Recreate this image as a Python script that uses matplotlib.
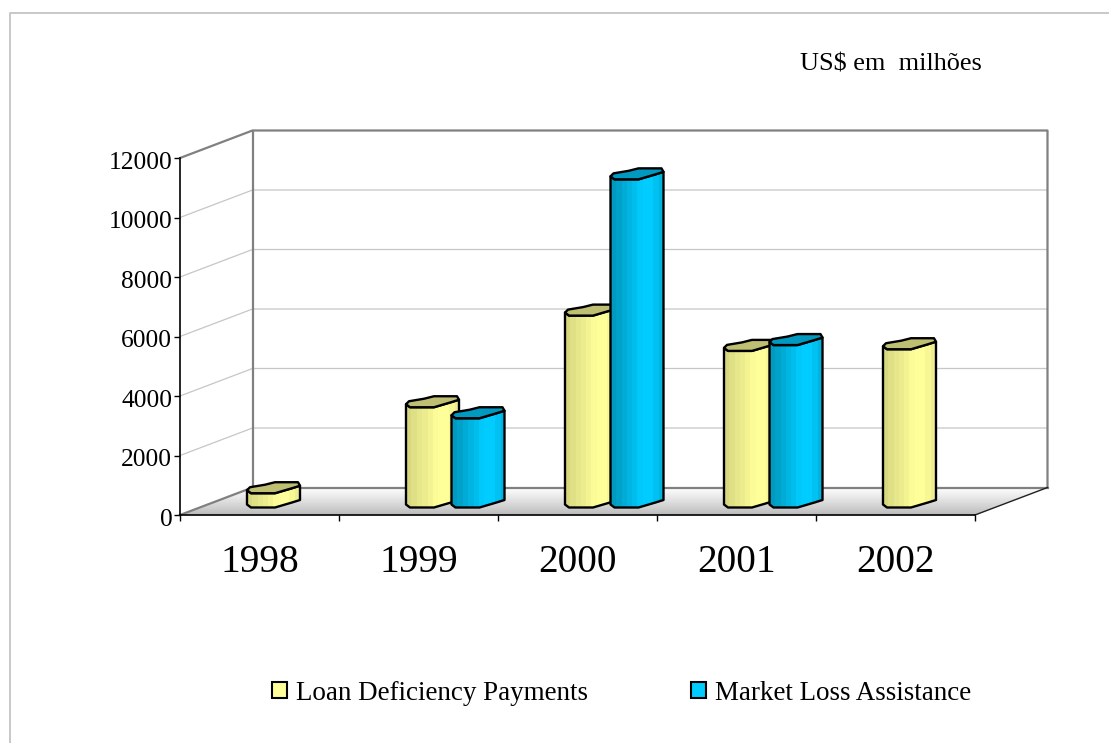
import numpy as np
import matplotlib
matplotlib.use('Agg')
import matplotlib.pyplot as plt
from matplotlib.colors import LinearSegmentedColormap
from matplotlib.lines import Line2D
from matplotlib.patches import Patch, Polygon
from matplotlib.transforms import ScaledTranslation

plt.rcParams['font.family'] = ['Liberation Serif', 'DejaVu Serif']

years = ['1998', '1999', '2000', '2001', '2002']
loan_deficiency = [480, 3370, 6450, 5264, 5320]
market_loss = [None, 3000, 11030, 5460, None]
y_ticks = [0, 2000, 4000, 6000, 8000, 10000, 12000]

W, H = 1109, 743
# plot box of the front plane, in pixels
LEFT, RIGHT, TOP, BOTTOM = 180, 975, 158, 515
DEPTH_PX = (72.5, -27.5)

fig = plt.figure(figsize=(W / 100, H / 100), dpi=100)
ax = fig.add_axes([LEFT / W, 1 - BOTTOM / H, (RIGHT - LEFT) / W, (BOTTOM - TOP) / H])
ax.patch.set_visible(False)
ax.set_xlim(0, 5)
ax.set_ylim(0, 12000)

px_x = 5 / (RIGHT - LEFT)
px_y = 12000 / (BOTTOM - TOP)
dx, dy = DEPTH_PX[0] * px_x, -DEPTH_PX[1] * px_y

# outer chart frame runs off the picture at the right and the bottom
fig.add_artist(Line2D([10 / W, 10 / W, 1], [0, 1 - 13 / H, 1 - 13 / H], transform=fig.transFigure,
                      color='#c8c8c8', lw=1.4))

# floor with its gradient, drawn as thin strips
grey = LinearSegmentedColormap.from_list('floor', ['#ffffff', '#bdbdbd'])
strips = np.linspace(1, 0, 28)
for k in range(len(strips) - 1):
    a, b = strips[k], strips[k + 1]
    ax.fill([a * dx, 5 + a * dx, 5 + b * dx, b * dx], [a * dy, a * dy, b * dy, b * dy],
            color=grey(k / 26), lw=0.3, clip_on=False, zorder=1)

# gridlines on the walls
for v in y_ticks[1:-1]:
    ax.plot([0, dx, 5 + dx], [v, v + dy, v + dy], color='#c6c6c6', lw=0.9, clip_on=False, zorder=1.5)

wall = '#808080'
ax.plot([0, dx, 5 + dx, 5 + dx], [12000, 12000 + dy, 12000 + dy, dy], color=wall, lw=1.6, clip_on=False, zorder=2)
ax.plot([dx, dx, 5 + dx], [12000 + dy, dy, dy], color=wall, lw=1.6, clip_on=False, zorder=2)
ax.plot([0, dx], [0, dy], color=wall, lw=1.6, clip_on=False, zorder=2)
ax.plot([5, 5 + dx], [0, dy], color='#202020', lw=1.0, clip_on=False, zorder=2)

# bar outline in pixels from the left edge: Excel's faceted cylinder
front_x = np.array([0, 4, 28, 45, 53])
front_up = np.array([3, 0, 0, 5, 7.5])
back_x = np.array([51, 28, 18, 3])
back_up = np.array([11, 11, 8.5, 6])
BAR_OFFSET = 67 / 159   # left edge of the first bar inside a category
BAR_STEP = 45.5 / 159
BASE = 7.5 * px_y       # bars stand a little behind the front edge

yellow_shade = LinearSegmentedColormap.from_list('y', ['#d8d880', '#e6e68a', '#f0f090', '#ffff99', '#ffff99', '#eeee90'])
blue_shade = LinearSegmentedColormap.from_list('b', ['#0099bf', '#00aad4', '#00bbe8', '#00ccff', '#00ccff', '#00b4e0'])


def draw_bar(x0, value, shade, top_color, z):
    xs = x0 + front_x * px_x
    low = BASE + front_up * px_y
    high = BASE + value + front_up * px_y
    outline = np.r_[np.c_[xs, high], np.c_[xs[::-1], low[::-1]]]
    body = Polygon(outline, transform=ax.transData, fc='none', ec='none')
    ax.add_patch(body)
    im = ax.imshow(np.round(np.linspace(0, 1, 10) * 9).reshape(1, -1) / 9, cmap=shade, aspect='auto',
                   extent=(xs[0], xs[-1], BASE, BASE + value + 8 * px_y), zorder=z, vmin=0, vmax=1)
    im.set_clip_path(body)
    ax.add_patch(Polygon(outline, fc='none', ec='black', lw=1.7, joinstyle='round', zorder=z + 0.1))
    tx = np.r_[xs, x0 + back_x * px_x]
    ty = np.r_[high, BASE + value + back_up * px_y]
    ax.add_patch(Polygon(np.c_[tx, ty], fc=top_color, ec='black', lw=1.7, joinstyle='round', zorder=z + 0.2))


for i in range(len(years)):
    draw_bar(i + BAR_OFFSET, loan_deficiency[i], yellow_shade, '#bfbf73', 3 + i)
    if market_loss[i] is not None:
        draw_bar(i + BAR_OFFSET + BAR_STEP, market_loss[i], blue_shade, '#0099bf', 3.5 + i)

ax.set_xlim(0, 5)
ax.set_ylim(0, 12000)

for side in ['top', 'right']:
    ax.spines[side].set_visible(False)
for side in ['left', 'bottom']:
    ax.spines[side].set_linewidth(1.2)
    ax.spines[side].set_zorder(9)
ax.set_yticks(y_ticks)
ax.set_yticklabels([str(v) for v in y_ticks])
ax.tick_params(axis='y', labelsize=18.4, length=4, width=1, pad=1.5)
# the value labels sit a little below their ticks
for lab in ax.get_yticklabels():
    lab.set_transform(lab.get_transform() + ScaledTranslation(0, -1.5 / 72, fig.dpi_scale_trans))
ax.set_xticks(range(6))
ax.set_xticklabels([])
ax.set_xticks(np.arange(5) + 0.5, labels=years, minor=True)
ax.tick_params(axis='x', which='major', length=4, width=1)
ax.tick_params(axis='x', which='minor', length=0, labelsize=28.4, pad=21)

fig.text(800 / W, 1 - 64 / H, 'US$ em  milhões', fontsize=18.9, ha='left', va='center')

handles = [Patch(fc='#ffff99', ec='black', lw=1.5, label='Loan Deficiency Payments'),
           Patch(fc='#00ccff', ec='black', lw=1.5, label='Market Loss Assistance')]
fig.legend(handles=handles, loc='center left', bbox_to_anchor=(272 / W, 1 - 693 / H), ncol=2, frameon=False,
           fontsize=19.45, handlelength=0.56, handleheight=0.56, handletextpad=0.34, columnspacing=3.8,
           borderpad=0, borderaxespad=0)

fig.savefig('out.png', dpi=100)
